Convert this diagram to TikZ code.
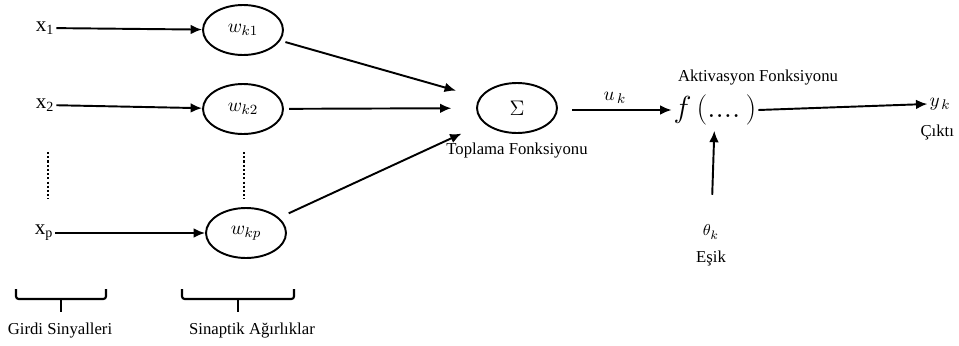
\documentclass[tikz,border=0pt]{standalone}
\usepackage{fontspec}
\setmainfont{Liberation Serif}
\usepackage{tikz}
\usetikzlibrary{arrows.meta,positioning,shapes.geometric}

\begin{document}
\begin{tikzpicture}[x=0.02cm, y=-0.02cm,
      wgt/.style={draw, ellipse, line width=1.1pt, minimum width=1.6cm,
                  minimum height=1cm, inner sep=0pt,
                  font=\fontsize{11}{13}\selectfont},
      lbl/.style={inner sep=1pt, font=\fontsize{9.5}{11}\selectfont},
      inp/.style={inner sep=1pt, font=\fontsize{12}{14}\selectfont},
      arr/.style={-{Latex[length=6.5pt,width=5.5pt]}, line width=1.1pt},
      dots/.style={line width=1.3pt, dash pattern=on 1.2pt off 1.2pt},
      brc/.style={line width=1.2pt, rounded corners=1.5pt}
  ]
    \useasboundingbox (0,0) rectangle (959,345);
    % inputs and weights
    \node[inp] (x1) at (45,28) {x\textsubscript{1}};
    \node[inp] (x2) at (45,105) {x\textsubscript{2}};
    \node[inp] (xp) at (44,233) {x\textsubscript{p}};
    \node[wgt] (w1) at (243,30) {$w_{k1}$};
    \node[wgt] (w2) at (243,109) {$w_{k2}$};
    \node[wgt] (wp) at (246,233) {$w_{kp}$};
    \draw[arr] (x1) -- (w1);
    \draw[arr] (x2) -- (w2);
    \draw[arr] (xp) -- (wp);
    \coordinate (d1a) at (48,152); \coordinate (d1b) at (48,199);
    \coordinate (d2a) at (244,152); \coordinate (d2b) at (244,199);
    \draw[dots] (d1a) -- (d1b);
    \draw[dots] (d2a) -- (d2b);
    % summation
    \node[wgt, font=\fontsize{12}{14}\selectfont] (sum) at (517,108) {$\Sigma$};
    \node[lbl, below=4pt of sum] (sumtxt) {Toplama Fonksiyonu};
    \draw[arr, shorten <=3pt, shorten >=14pt] (w1) -- (sum);
    \draw[arr, shorten <=3pt, shorten >=14pt] (w2) -- (sum);
    \draw[arr, shorten <=6pt, shorten >=14pt] (wp) -- (sum);
    % activation
    \node[inner sep=1pt, font=\fontsize{19}{21}\selectfont] (act) at (715,110) {$f\,(\mathrm{....}\,)$};
    \node[lbl] (acttxt) at (758,78) {Aktivasyon Fonksiyonu};
    \draw[arr, shorten <=8pt] (sum.east |- act.west) -- node[above, font=\fontsize{11}{13}\selectfont] (uk) {$u_{\,k}$} (act.west);
    \node[inner sep=1pt, font=\fontsize{11}{13}\selectfont] (yk) at (940,104) {$y_{\,k}$};
    \node[lbl, anchor=east] (out) at (956,132) {Çıktı};
    \draw[arr] (act.east) -- (yk.west);
    \node[lbl] (theta) at (711,232) {$\theta_k$};
    \node[lbl] (esik) at (711,258) {Eşik};
    \draw[arr, shorten <=16pt, shorten >=2pt] (theta) -- (act);
    % braces
    \draw[brc] (16,289) -- (16,299) -- (106,299) -- (106,289);
    \draw[brc] (61,299) -- (61,312);
    \draw[brc] (182,289) -- (182,299) -- (294,299) -- (294,289);
    \draw[brc] (238,299) -- (238,312);
    \node[lbl] (girdi) at (60,331) {Girdi Sinyalleri};
    \node[lbl] (sinap) at (252,331) {Sinaptik Ağırlıklar};
  \end{tikzpicture}
\end{document}
